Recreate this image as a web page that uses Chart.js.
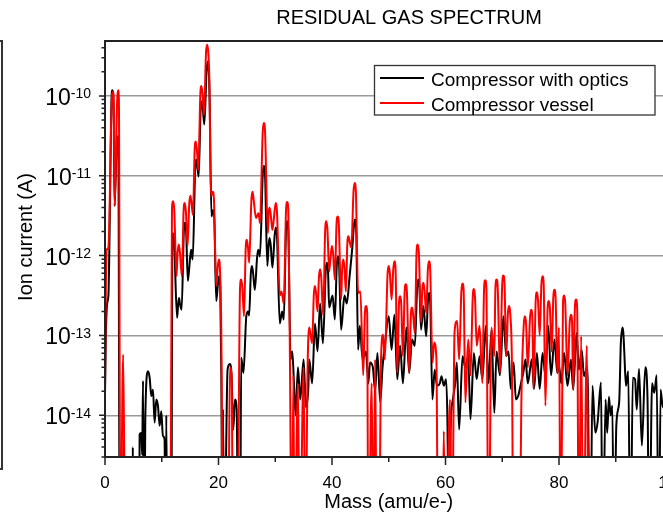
<!DOCTYPE html>
<html>
<head>
<meta charset="utf-8">
<script src="https://cdn.jsdelivr.net/npm/chart.js@4/dist/chart.umd.min.js"></script>
<style>
  html, body { margin: 0; padding: 0; background: #fff; overflow: hidden; }
  #wrap { position: relative; width: 663px; height: 514px; overflow: hidden; }
  #prev { position: absolute; left: -10px; top: 40px; width: 11px; height: 426px; border: 2px solid #333; border-left: none; }
  #myChart { position: absolute; left: 0; top: 0; }
</style>
</head>
<body>
<div id="wrap">
  <div id="prev"></div>
  <canvas id="myChart" width="700" height="514"></canvas>
</div>
<script>
// Compressor with optics (black)
const massOptics = [
  0, 0.15, 0.4, 0.6, 1.15, 1.3, 1.5, 1.7, 2.05, 2.2,
  2.35, 2.6, 3.0, 3.3, 3.4, 4.8, 4.9, 5.0, 6.0, 6.1,
  6.4, 6.55, 6.7, 6.9, 7.1, 7.57, 7.87, 8.16, 8.45, 8.75,
  9.04, 9.33, 9.63, 9.92, 10.2, 10.5, 10.65, 10.8, 11.0, 11.7,
  11.85, 12.0, 12.2, 12.7, 12.9, 13.05, 13.2, 13.5, 13.9, 14.1,
  14.3, 14.6, 15.0, 15.2, 15.3, 15.45, 15.9, 16.1, 16.3, 16.5,
  16.85, 17.05, 17.25, 17.5, 17.9, 18.1, 18.3, 18.45, 18.76, 18.9,
  19.05, 19.25, 19.6, 19.9, 20.1, 20.3, 20.5, 20.7, 20.8, 21.0,
  21.6, 22.0, 22.3, 22.6, 22.9, 23.2, 23.5, 23.8, 24.0, 24.4,
  24.9, 25.2, 25.4, 25.7, 25.9, 26.1, 26.4, 26.8, 27.0, 27.15,
  27.3, 27.8, 28.0, 28.2, 28.6, 28.85, 29.0, 29.2, 29.5, 29.9,
  30.1, 30.3, 30.8, 31.2, 31.5, 31.9, 32.1, 32.3, 32.7, 33.0,
  33.3, 33.6, 34.0, 34.4, 35.0, 35.4, 35.8, 36.0, 36.5, 37.0,
  37.45, 37.9, 38.4, 38.9, 39.1, 39.3, 39.5, 40.1, 40.5, 40.85,
  41.05, 41.25, 41.6, 42.2, 42.6, 43.1, 43.6, 43.85, 44.05, 44.25,
  44.6, 44.9, 45.4, 46.0, 46.4, 46.7, 47.2, 47.6, 48.0, 48.5,
  48.9, 49.3, 50.0, 50.5, 51.0, 51.5, 52.0, 52.5, 53.1, 53.6,
  54.1, 54.6, 55.0, 55.2, 55.4, 55.7, 56.1, 56.6, 56.9, 57.1,
  57.3, 57.7, 58.1, 58.5, 59.0, 59.3, 59.7, 60.1, 60.35, 60.6,
  60.9, 61.3, 61.7, 62.0, 62.4, 63.0, 63.5, 64.0, 64.4, 65.0,
  65.5, 66.0, 66.5, 67.1, 67.6, 68.1, 68.6, 69.0, 69.6, 70.2,
  70.7, 71.1, 71.5, 72.0, 72.4, 72.8, 73.3, 73.7, 74.1, 74.5,
  75.2, 75.6, 76.1, 76.6, 77.1, 77.6, 78.1, 78.6, 79.2, 79.7,
  80.0, 80.4, 80.9, 81.5, 82.1, 82.5, 83.1, 83.5, 84.0, 84.4,
  85.0, 85.5, 85.9, 86.4, 86.8, 87.4, 87.7, 88.2, 88.5, 88.8,
  89.1, 89.4, 89.7, 90.1, 90.6, 90.9, 91.05, 91.2, 91.35, 91.5,
  91.8, 92.2, 92.6, 93.0, 93.4, 93.7, 94.1, 94.6, 95.2, 95.6,
  95.9, 96.4, 96.8, 97.2, 97.6, 97.9, 98.3, 99.0, 100
];
const currentOptics = [
  1.74e-14, 1e-13, 2.57e-13, 3.16e-13, 9e-11, 1.18e-10, 8e-11, 4.17e-12, 2.6e-11, 3.09e-11,
  2.5e-11, 1e-16, 1e-16, 5e-15, 1e-16, 1e-16, 4e-15, 1e-16, 1e-16, 5.75e-15,
  6e-15, 3.2e-15, 2.69e-14, 1e-16, 8.9e-15, 3.55e-14, 2.95e-14, 1.74e-14, 2.09e-14, 8.1e-15,
  1.58e-14, 1.32e-14, 7.4e-15, 1.12e-14, 5.5e-15, 5e-15, 1e-16, 1e-14, 1e-16, 1e-16,
  1.5e-12, 1.9e-12, 1.4e-12, 1.66e-13, 2.5e-13, 2.95e-13, 2.5e-13, 2.09e-13, 2.1e-12, 2.57e-12,
  2e-12, 4.79e-13, 9.5e-13, 1.18e-12, 1.05e-12, 8.9e-13, 1.26e-11, 1.58e-11, 1.26e-11, 9.77e-12,
  6.8e-11, 8.5e-11, 6.8e-11, 4.37e-11, 2.1e-10, 2.69e-10, 2e-10, 8e-11, 3.09e-12, 3.4e-12,
  3.72e-12, 3e-12, 2.69e-13, 4.4e-13, 5.5e-13, 4.2e-13, 3.16e-14, 1e-16, 1.18e-14, 1e-16,
  3.72e-14, 4.37e-14, 3.16e-14, 6.6e-15, 1.58e-14, 1.18e-14, 1e-16, 1e-16, 5.25e-14, 3.39e-14,
  1.74e-13, 2e-13, 1.78e-13, 6e-13, 7.41e-13, 6e-13, 3.72e-13, 9.5e-13, 1.18e-12, 1.1e-12,
  9.77e-13, 1.05e-11, 1.32e-11, 1.05e-11, 7.41e-13, 1.4e-12, 1.66e-12, 1.35e-12, 7.08e-13, 1.8e-12,
  2.24e-12, 1.8e-12, 1.41e-13, 2e-13, 1.58e-13, 2.1e-12, 2.69e-12, 2.1e-12, 5e-14, 6.31e-14,
  2.51e-14, 1e-14, 3.98e-14, 1.58e-14, 5e-14, 1.26e-14, 2e-14, 5e-14, 2.51e-14, 1.41e-13,
  6.31e-14, 2.51e-13, 7.94e-14, 6.5e-13, 8.13e-13, 6.5e-13, 2.24e-13, 3.16e-13, 1.58e-13, 7.8e-13,
  9.77e-13, 7.8e-13, 1.18e-13, 3.16e-13, 2.51e-13, 5.5e-13, 1.32e-12, 2.3e-12, 2.82e-12, 2.3e-12,
  6.61e-14, 1.32e-13, 5e-14, 6.31e-14, 2.51e-14, 4.57e-14, 3.98e-14, 2e-14, 6.03e-14, 1.45e-14,
  3.98e-14, 7.41e-14, 1.74e-13, 6.61e-14, 1.82e-13, 2.82e-14, 7.41e-14, 2.51e-14, 1.26e-13, 3.39e-14,
  8.91e-14, 7.41e-14, 4e-13, 5.01e-13, 4e-13, 1.18e-13, 2.34e-13, 9.77e-14, 2.7e-13, 3.39e-13,
  2.7e-13, 1.58e-14, 3.72e-14, 2.34e-14, 2.51e-14, 3.09e-14, 2.34e-14, 2.82e-14, 7.41e-15, 1e-16,
  6.61e-15, 1.58e-14, 2.51e-14, 4.57e-14, 6.61e-15, 5.5e-14, 3.98e-14, 5.5e-14, 8.91e-15, 6.03e-14,
  2.82e-14, 5.5e-14, 2.82e-14, 1.32e-13, 2.51e-14, 1.18e-13, 1.07e-14, 6.31e-14, 3.16e-14, 1.74e-13,
  5.5e-14, 6.31e-14, 2.14e-14, 4.57e-14, 1.58e-14, 1.74e-14, 2.51e-14, 3.39e-14, 5e-14, 2.51e-14,
  5e-14, 2.14e-14, 6.03e-14, 2.14e-14, 6.03e-14, 3.16e-14, 1.32e-13, 3.16e-14, 8.91e-14, 3.39e-14,
  4.17e-14, 2.51e-14, 6.03e-14, 2.34e-14, 5e-14, 2.09e-14, 1.07e-13, 3.72e-14, 6.61e-14, 3.09e-14,
  3.98e-14, 1e-16, 2.34e-14, 6.03e-15, 8.13e-15, 2.57e-14, 1e-16, 1.58e-14, 6.03e-15, 1.7e-14,
  1e-14, 1.32e-14, 1e-16, 7.41e-15, 1.45e-14, 8.13e-14, 1.1e-13, 1.26e-13, 1.05e-13, 6.31e-14,
  2.34e-14, 3.55e-14, 1e-16, 2.95e-14, 2.82e-14, 1.18e-14, 3.8e-14, 4.17e-15, 3.98e-14, 1.58e-14,
  1e-16, 2.51e-14, 1.91e-14, 3.16e-14, 1e-16, 2.09e-14, 1.26e-14, 2.51e-14, 2e-14
];

// Compressor vessel (red)
const massVessel = [
  0, 0.15, 0.3, 0.6, 1.2, 1.4, 1.55, 1.7, 2.15, 2.3,
  2.45, 2.7, 3.2, 3.6, 11.5, 11.8, 12.0, 12.2, 12.6, 12.8,
  13.0, 13.2, 13.55, 13.85, 14.05, 14.25, 14.55, 14.85, 15.05, 15.25,
  15.5, 15.8, 16.0, 16.2, 16.45, 16.8, 17.0, 17.2, 17.45, 17.8,
  18.0, 18.2, 18.4, 18.65, 18.85, 19.0, 19.2, 19.6, 19.85, 20.05,
  20.25, 20.5, 20.8, 21.7, 22.0, 22.3, 22.6, 23.3, 23.8, 24.0,
  24.2, 24.5, 24.8, 25.0, 25.2, 25.4, 25.8, 26.0, 26.2, 26.6,
  26.85, 27.0, 27.15, 27.3, 27.8, 28.0, 28.2, 28.7, 28.85, 29.0,
  29.2, 29.5, 29.9, 30.1, 30.3, 30.8, 31.1, 31.5, 31.9, 32.1,
  32.3, 32.6, 32.9, 33.2, 33.4, 34.0, 34.3, 35.0, 35.3, 35.7,
  36.0, 36.5, 36.8, 37.0, 37.2, 37.45, 37.7, 37.9, 38.1, 38.45,
  38.8, 39.0, 39.2, 39.5, 39.8, 40.0, 40.2, 40.5, 40.8, 41.0,
  41.2, 41.6, 41.8, 42.0, 42.2, 42.45, 42.7, 42.9, 43.1, 43.4,
  43.8, 44.0, 44.2, 44.6, 45.0, 45.5, 45.8, 46.0, 46.2, 46.4,
  47.0, 47.3, 47.6, 47.9, 48.3, 48.6, 49.0, 49.3, 49.8, 50.0,
  50.2, 50.5, 50.8, 51.0, 51.2, 51.5, 51.8, 52.0, 52.2, 52.5,
  52.8, 53.0, 53.2, 53.6, 53.9, 54.1, 54.3, 54.6, 54.9, 55.1,
  55.3, 55.7, 55.9, 56.1, 56.3, 56.6, 56.9, 57.1, 57.3, 57.7,
  58.0, 58.4, 58.7, 59.4, 59.7, 60.0, 60.8, 61.1, 61.6, 62.05,
  62.4, 62.8, 63.0, 63.2, 63.5, 64.0, 64.4, 64.8, 65.0, 65.2,
  65.5, 66.0, 66.5, 66.8, 67.0, 67.2, 67.6, 68.1, 68.6, 68.8,
  69.0, 69.2, 69.6, 70.0, 70.2, 70.4, 70.7, 71.0, 71.2, 71.4,
  71.7, 72.0, 73.0, 73.4, 73.8, 74.0, 74.2, 74.5, 74.9, 75.1,
  75.3, 75.5, 75.9, 76.1, 76.3, 76.6, 76.9, 77.1, 77.3, 77.6,
  78.0, 78.2, 78.4, 78.7, 79.0, 79.2, 79.4, 79.7, 80.0, 80.3,
  80.7, 80.9, 81.1, 81.5, 81.9, 82.1, 82.3, 82.5, 82.8, 83.0,
  83.2, 83.5, 83.9, 84.3, 84.9, 85.3, 100
];
const currentVessel = [
  2e-14, 3.98e-13, 1.18e-12, 1.26e-12, 9e-11, 1.12e-10, 8e-11, 4.17e-12, 9e-11, 1.18e-10,
  9e-11, 1e-16, 5.75e-14, 1e-16, 1e-16, 3.8e-12, 4.79e-12, 3.8e-12, 5.5e-13, 1.1e-12,
  1.38e-12, 1.1e-12, 5.5e-13, 3.6e-12, 4.57e-12, 3.6e-12, 1.32e-12, 4.5e-12, 5.62e-12, 4.5e-12,
  3.24e-12, 2.1e-11, 2.69e-11, 2.1e-11, 1.18e-11, 1.05e-10, 1.33e-10, 1.05e-10, 5.75e-11, 3.5e-10,
  4.37e-10, 3.5e-10, 1.5e-10, 5.62e-12, 5.8e-12, 6.31e-12, 5e-12, 4.17e-13, 7e-13, 8.91e-13,
  7e-13, 1e-13, 1e-16, 1e-16, 3.98e-14, 3.16e-14, 1e-16, 1e-16, 4e-13, 5.01e-13,
  4e-13, 1.74e-13, 1.26e-12, 1.58e-12, 1.26e-12, 8.13e-13, 5e-12, 6.31e-12, 5e-12, 2.95e-12,
  3.2e-12, 3.39e-12, 3.1e-12, 2.57e-12, 3.6e-11, 4.57e-11, 3.6e-11, 1.9e-12, 3.5e-12, 3.98e-12,
  3.3e-12, 2.09e-12, 3.7e-12, 4.57e-12, 3.6e-12, 3.16e-13, 3.55e-13, 2.51e-13, 3.7e-12, 4.68e-12,
  3.7e-12, 3.98e-14, 1e-16, 3.16e-14, 1e-16, 2.51e-14, 1e-16, 3.98e-14, 1e-16, 3.98e-14,
  1.26e-13, 7.94e-14, 3.3e-13, 4.17e-13, 3.3e-13, 2e-13, 5.4e-13, 6.76e-13, 5.4e-13, 1.78e-13,
  2.1e-12, 2.69e-12, 2.1e-12, 6.31e-13, 1.05e-12, 1.32e-12, 1.05e-12, 5.01e-13, 2.5e-12, 3.09e-12,
  2.5e-12, 2.82e-13, 7e-13, 8.91e-13, 7e-13, 3.55e-13, 1.4e-12, 1.74e-12, 1.5e-12, 1.26e-12,
  6.5e-12, 8.13e-12, 6.5e-12, 3.39e-13, 3.55e-13, 3.16e-14, 1.9e-13, 2.34e-13, 1.9e-13, 1e-16,
  2.51e-14, 1e-16, 5e-14, 1e-16, 1e-16, 3.98e-14, 1.02e-13, 5e-14, 6e-13, 7.41e-13,
  6e-13, 2.82e-13, 6.8e-13, 8.51e-13, 6.8e-13, 3.39e-14, 2.5e-13, 3.09e-13, 2.5e-13, 5.5e-14,
  3.5e-13, 4.37e-13, 3.5e-13, 3.39e-14, 1.8e-13, 2.24e-13, 1.8e-13, 1.07e-13, 1.1e-12, 1.38e-12,
  1.1e-12, 1.45e-13, 3.7e-13, 4.57e-13, 3.7e-13, 1.91e-13, 6.8e-13, 8.51e-13, 6.8e-13, 4.57e-14,
  8.13e-14, 5e-14, 1e-16, 1e-16, 6.31e-15, 1e-16, 1.58e-14, 1e-16, 1.12e-13, 1.51e-13,
  5e-14, 3.6e-13, 4.47e-13, 3.6e-13, 1.45e-14, 8.91e-14, 3.16e-14, 3e-13, 3.8e-13, 3e-13,
  7.41e-14, 1.32e-13, 2.51e-14, 3.9e-13, 4.9e-13, 3.9e-13, 1e-16, 1.26e-13, 5.5e-14, 4e-13,
  5.01e-13, 4e-13, 3.39e-14, 4.5e-13, 5.62e-13, 4.5e-13, 5.5e-14, 1.9e-13, 2.34e-13, 1.9e-13,
  4.57e-14, 1e-16, 1e-16, 2e-14, 1.4e-13, 1.74e-13, 1.4e-13, 3.98e-14, 1.7e-13, 2.09e-13,
  1.7e-13, 2.14e-14, 2.8e-13, 3.47e-13, 2.8e-13, 1e-13, 4.4e-13, 5.5e-13, 4.4e-13, 1.32e-14,
  2.2e-13, 2.69e-13, 2.2e-13, 6.31e-14, 3e-13, 3.72e-13, 3e-13, 3.39e-14, 1.26e-13, 1e-16,
  2.5e-13, 3.16e-13, 2.5e-13, 3.16e-14, 1.5e-13, 1.82e-13, 1.5e-13, 2.09e-14, 2.2e-13, 2.82e-13,
  2.2e-13, 1e-16, 9.77e-14, 1e-16, 7.41e-14, 1e-16, 1e-16
];

const seriesNames = ["Compressor with optics", "Compressor vessel"];
const seriesColors = ["#000000", "#ff0000"];
const xTicks = [0, 20, 40, 60, 80, 100];
const yDecades = [-14, -13, -12, -11, -10];

const FONT = '"Liberation Sans", Arial, sans-serif';

const toPoints = (xs, ys) => xs.map((m, i) => ({ x: m, y: ys[i] }));

const isDecade = (v) => {
  const l = Math.log10(v);
  return Math.abs(l - Math.round(l)) < 1e-6;
};

// frame, tick marks, superscript y labels, titles and inset legend
const decorations = {
  id: "decorations",
  afterDraw(chart) {
    const ctx = chart.ctx;
    const a = chart.chartArea;
    const xs = chart.scales.x;
    const ys = chart.scales.y;
    ctx.save();

    // tick marks
    ctx.strokeStyle = "#222";
    ctx.lineWidth = 1.5;
    ctx.beginPath();
    for (let v = 0; v <= 100; v += 10) {
      const px = xs.getPixelForValue(v);
      ctx.moveTo(px, a.bottom);
      ctx.lineTo(px, a.bottom + (v % 20 === 0 ? 8 : 5));
    }
    for (let e = -15; e <= -10; e++) {
      for (let k = 1; k <= 9; k++) {
        const v = k * Math.pow(10, e);
        if (v < ys.min || v > ys.max) continue;
        const py = ys.getPixelForValue(v);
        ctx.moveTo(a.left, py);
        ctx.lineTo(a.left - (k === 1 ? 6 : 3.5), py);
      }
    }
    ctx.stroke();

    // frame
    ctx.lineWidth = 2;
    ctx.strokeRect(a.left, a.top, a.right - a.left, a.bottom - a.top);

    // y labels 10^n
    ctx.fillStyle = "#000";
    ctx.textBaseline = "alphabetic";
    ctx.textAlign = "left";
    yDecades.forEach((e) => {
      const py = ys.getPixelForValue(Math.pow(10, e));
      const exp = String(e);
      ctx.font = "14px " + FONT;
      const we = ctx.measureText(exp).width;
      ctx.font = "23px " + FONT;
      const wb = ctx.measureText("10").width;
      const right = 91;
      ctx.fillText("10", right - we - wb, py + 9);
      ctx.font = "14px " + FONT;
      ctx.fillText(exp, right - we, py + 2.5);
    });

    // y title
    ctx.save();
    ctx.translate(32, 237);
    ctx.rotate(-Math.PI / 2);
    ctx.font = "20px " + FONT;
    ctx.textAlign = "center";
    ctx.fillText("Ion current (A)", 0, 0);
    ctx.restore();

    // chart title
    ctx.font = "20px " + FONT;
    ctx.textAlign = "center";
    ctx.fillText("RESIDUAL GAS SPECTRUM", 409, 24);

    // legend
    const lx = 374.5, ly = 65.5, lw = 280.5, lh = 49.5;
    ctx.fillStyle = "#fff";
    ctx.fillRect(lx, ly, lw, lh);
    ctx.strokeStyle = "#333";
    ctx.lineWidth = 1.3;
    ctx.strokeRect(lx, ly, lw, lh);
    ctx.font = "19px " + FONT;
    ctx.textAlign = "left";
    seriesNames.forEach((name, i) => {
      const yy = 78 + i * 25;
      ctx.strokeStyle = seriesColors[i];
      ctx.lineWidth = 2;
      ctx.beginPath();
      ctx.moveTo(380, yy);
      ctx.lineTo(424, yy);
      ctx.stroke();
      ctx.fillStyle = "#000";
      ctx.fillText(name, 431, yy + 7.5);
    });

    ctx.restore();
  }
};

const data = {
  datasets: [
    {
      label: seriesNames[0],
      data: toPoints(massOptics, currentOptics),
      borderColor: seriesColors[0],
      borderWidth: 2,
      order: 1
    },
    {
      label: seriesNames[1],
      data: toPoints(massVessel, currentVessel),
      borderColor: seriesColors[1],
      borderWidth: 2,
      order: 0
    }
  ]
};

const config = {
  type: "line",
  data: data,
  options: {
    responsive: false,
    animation: false,
    devicePixelRatio: 1,
    elements: {
      point: { radius: 0 },
      line: { cubicInterpolationMode: "monotone", fill: false }
    },
    layout: { padding: { left: 0, right: 27.5, top: 41, bottom: 0 } },
    plugins: {
      legend: { display: false },
      tooltip: { enabled: false },
      title: { display: false }
    },
    scales: {
      x: {
        type: "linear",
        min: 0,
        max: 100,
        grid: { display: false },
        border: { display: false },
        afterBuildTicks: (s) => { s.ticks = xTicks.map((v) => ({ value: v })); },
        ticks: {
          color: "#000",
          font: { family: FONT, size: 17 },
          padding: 8,
          maxRotation: 0,
          autoSkip: false
        },
        title: {
          display: true,
          text: "Mass (amu/e-)",
          color: "#000",
          font: { family: FONT, size: 20 },
          padding: { top: 1.5, bottom: 0 }
        },
        afterFit: (s) => { s.height = 57; }
      },
      y: {
        type: "logarithmic",
        min: 3.07e-15,
        max: 4.87e-10,
        border: { display: false },
        grid: {
          drawTicks: false,
          lineWidth: 1.5,
          color: (c) => (c.tick && isDecade(c.tick.value) ? "#9a9a9a" : "rgba(0,0,0,0)")
        },
        ticks: { autoSkip: false, callback: () => "" },
        afterFit: (s) => { s.width = 105; }
      }
    }
  },
  plugins: [decorations]
};

const myChart = new Chart(document.getElementById("myChart"), config);
</script>
</body>
</html>
